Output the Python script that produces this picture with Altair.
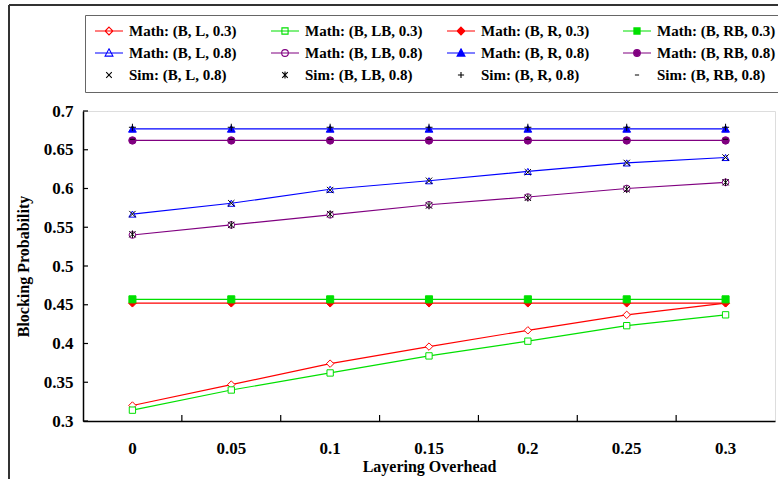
import altair as alt
import pandas as pd

# ---------------- data ----------------
x_labels = ["0", "0.05", "0.1", "0.15", "0.2", "0.25", "0.3"]
y_ticks = [0.3, 0.35, 0.4, 0.45, 0.5, 0.55, 0.6, 0.65, 0.7]

series_names = [
    "Math: (B, L, 0.3)", "Math: (B, LB, 0.3)", "Math: (B, R, 0.3)", "Math: (B, RB, 0.3)",
    "Math: (B, L, 0.8)", "Math: (B, LB, 0.8)", "Math: (B, R, 0.8)", "Math: (B, RB, 0.8)",
    "Sim: (B, L, 0.8)", "Sim: (B, LB, 0.8)", "Sim: (B, R, 0.8)", "Sim: (B, RB, 0.8)",
]

math_b_l_03 = [0.320, 0.347, 0.374, 0.396, 0.417, 0.437, 0.452]
math_b_lb_03 = [0.314, 0.340, 0.362, 0.384, 0.403, 0.423, 0.437]
math_b_r_03 = [0.452, 0.452, 0.452, 0.452, 0.452, 0.452, 0.452]
math_b_rb_03 = [0.457, 0.457, 0.457, 0.457, 0.457, 0.457, 0.457]
math_b_l_08 = [0.567, 0.581, 0.599, 0.610, 0.622, 0.633, 0.640]
math_b_lb_08 = [0.540, 0.553, 0.566, 0.579, 0.589, 0.600, 0.608]
math_b_r_08 = [0.677, 0.677, 0.677, 0.677, 0.677, 0.677, 0.677]
math_b_rb_08 = [0.662, 0.662, 0.662, 0.662, 0.662, 0.662, 0.662]
sim_b_l_08 = [0.567, 0.581, 0.598, 0.610, 0.621, 0.633, 0.640]
sim_b_lb_08 = [0.541, 0.553, 0.567, 0.578, 0.588, 0.599, 0.608]
sim_b_r_08 = [0.679, 0.679, 0.679, 0.679, 0.679, 0.679, 0.679]
sim_b_rb_08 = [0.6635, 0.6635, 0.6635, 0.6635, 0.6635, 0.6635, 0.6635]

series_values = [
    math_b_l_03, math_b_lb_03, math_b_r_03, math_b_rb_03,
    math_b_l_08, math_b_lb_08, math_b_r_08, math_b_rb_08,
    sim_b_l_08, sim_b_lb_08, sim_b_r_08, sim_b_rb_08,
]

# ---------------- styles ----------------
RED, GREEN, BLUE, PURPLE, BLACK = "#FF0000", "#00E000", "#0000FF", "#800080", "#000000"
stroke_colors = [RED, GREEN, RED, GREEN, BLUE, PURPLE, BLUE, PURPLE, BLACK, BLACK, BLACK, BLACK]
fill_colors = ["white", "white", RED, GREEN, "white", "white", BLUE, PURPLE,
               "transparent", "transparent", "transparent", "transparent"]
has_line = [True] * 8 + [False] * 4

X_PATH = "M-1,-1L1,1M-1,1L1,-1"
AST_PATH = "M-1,-1L1,1M-1,1L1,-1M0,-1.2L0,1.2"
PLUS_PATH = "M-1,0L1,0M0,-1L0,1"
DASH_PATH = "M-1,0L1,0"
plot_shapes = ["diamond", "square", "diamond", "square",
               "triangle-up", "circle", "triangle-up", "circle",
               X_PATH, AST_PATH, PLUS_PATH, DASH_PATH]
plot_sizes = [55, 40, 60, 50, 50, 45, 60, 55, 40, 40, 50, 25]

LINE = "M-1,0L1,0"
legend_shapes = [
    LINE + "M0,-0.28L0.28,0L0,0.28L-0.28,0Z",
    LINE + "M-0.22,-0.22L0.22,-0.22L0.22,0.22L-0.22,0.22Z",
    LINE + "M0,-0.28L0.28,0L0,0.28L-0.28,0Z",
    LINE + "M-0.22,-0.22L0.22,-0.22L0.22,0.22L-0.22,0.22Z",
    LINE + "M0,-0.3L0.28,0.22L-0.28,0.22Z",
    LINE + "M-0.24,0A0.24,0.24,0,1,0,0.24,0A0.24,0.24,0,1,0,-0.24,0Z",
    LINE + "M0,-0.3L0.28,0.22L-0.28,0.22Z",
    LINE + "M-0.24,0A0.24,0.24,0,1,0,0.24,0A0.24,0.24,0,1,0,-0.24,0Z",
    "M-0.2,-0.2L0.2,0.2M-0.2,0.2L0.2,-0.2",
    "M-0.2,-0.2L0.2,0.2M-0.2,0.2L0.2,-0.2M0,-0.25L0,0.25",
    "M-0.22,0L0.22,0M0,-0.22L0,0.22",
    "M-0.15,0L0.15,0",
]

# legend fills its 3 rows column by column: order entries so rows read as in the original
N_ROWS, N_COLS = 3, 4
legend_idx = [r * N_COLS + c for c in range(N_COLS) for r in range(N_ROWS)]
legend_domain = [series_names[i] for i in legend_idx]
legend_strokes = [stroke_colors[i] for i in legend_idx]
legend_fills = [fill_colors[i] for i in legend_idx]
legend_paths = [legend_shapes[i] for i in legend_idx]

rows = []
for name, vals in zip(series_names, series_values):
    for xl, v in zip(x_labels, vals):
        rows.append({"series": name, "x": xl, "y": v})
df = pd.DataFrame(rows)

FONT = "Liberation Serif"
W, H = 692, 310

x_scale = alt.Scale(type="band", domain=x_labels, paddingInner=0, paddingOuter=0)
y_scale = alt.Scale(domain=[0.3, 0.7], nice=False, zero=False)

x_axis = alt.Axis(title="Layering Overhead", ticks=False, tickSize=0, grid=False,
                  labelPadding=19, labelAngle=0, labelFont=FONT, labelFontWeight="bold",
                  labelFontSize=17, labelColor="black", titleFont=FONT, titleFontWeight="bold",
                  titleFontSize=16, titleColor="black", titlePadding=2,
                  domainColor="black", domainWidth=1.5)
y_axis = alt.Axis(title="Blocking Probability", ticks=False, tickSize=0, grid=False,
                  values=y_ticks, format="~g", labelPadding=10, labelFont=FONT,
                  labelFontWeight="bold", labelFontSize=17, labelColor="black",
                  titleFont=FONT, titleFontWeight="bold", titleFontSize=16,
                  titleColor="black", titlePadding=12, domainColor="black", domainWidth=1.5)


def X(field="x", band=0.5):
    return alt.X(f"{field}:N", scale=x_scale, axis=x_axis, bandPosition=band, sort=x_labels)


def Y(field="y"):
    return alt.Y(f"{field}:Q", scale=y_scale, axis=y_axis)


base = alt.Chart(df)
layers = []

# inward tick marks (axis decoration)
xt = alt.Chart(pd.DataFrame({"x": x_labels[1:]})).mark_rule(color="black", strokeWidth=1.2).encode(
    x=X("x", 0), y=alt.value(H - 6), y2=alt.value(H))
yt = alt.Chart(pd.DataFrame({"t": y_ticks})).mark_rule(color="black", strokeWidth=1.2).encode(
    y=Y("t"), x=alt.value(0), x2=alt.value(5))
layers += [xt, yt]

# lines
for name, col, hl in zip(series_names, stroke_colors, has_line):
    if hl:
        layers.append(base.transform_filter(alt.datum.series == name)
                      .mark_line(color=col, strokeWidth=1.2).encode(x=X(), y=Y()))

# markers
for name, col, fc, shp, sz in zip(series_names, stroke_colors, fill_colors, plot_shapes, plot_sizes):
    filled = fc not in ("white", "transparent")
    layers.append(base.transform_filter(alt.datum.series == name)
                  .mark_point(shape=shp, size=sz, filled=filled, color=col,
                              fill=fc, stroke=col, strokeWidth=1, opacity=1)
                  .encode(x=X(), y=Y()))

# legend carrier layer (invisible marks, visible legend)
leg = alt.Legend(title=None, orient="none", legendX=2, legendY=-96, columns=4,
                 gridAlign="all", columnPadding=22, rowPadding=7, clipHeight=14,
                 padding=9, strokeColor="#666666", fillColor="white",
                 labelFont=FONT, labelFontWeight="bold", labelFontSize=15, labelColor="black",
                 labelOffset=5, labelLimit=300, symbolSize=784, symbolStrokeWidth=1.1,
                 symbolOpacity=1, symbolFillColor="white")
legend_layer = base.mark_point(opacity=0, size=10).encode(
    x=X(), y=Y(),
    stroke=alt.Stroke("series:N", scale=alt.Scale(domain=legend_domain, range=legend_strokes), legend=leg),
    fill=alt.Fill("series:N", scale=alt.Scale(domain=legend_domain, range=legend_fills), legend=leg),
    shape=alt.Shape("series:N", scale=alt.Scale(domain=legend_domain, range=legend_paths), legend=leg),
)
layers.append(legend_layer)

# outer figure frame (decoration)
frame_top = alt.Chart(pd.DataFrame({"a": [0]})).mark_rule(color="#333333", strokeWidth=2).encode(
    x=alt.value(-74), x2=alt.value(720), y=alt.value(-106))
frame_left = alt.Chart(pd.DataFrame({"a": [0]})).mark_rule(color="#333333", strokeWidth=2).encode(
    x=alt.value(-74), y=alt.value(-106), y2=alt.value(400))
layers += [frame_top, frame_left]

chart = alt.layer(*layers).properties(
    width=W, height=H,
    autosize=alt.AutoSizeParams(type="none"),
    padding={"left": 83, "top": 111, "right": 3, "bottom": 58},
).configure_view(stroke="#A0A0A0", strokeWidth=1).configure(background="white")

chart.save("out.html", embed_options={"renderer": "svg", "actions": False})
